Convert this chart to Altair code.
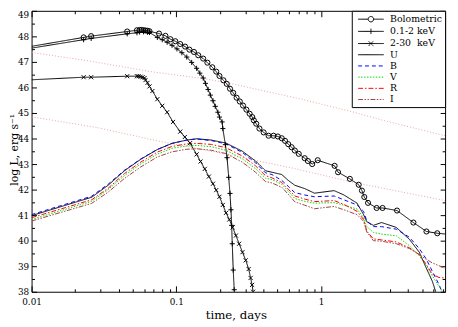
import altair as alt
import pandas as pd

# ---------------- data ----------------
bol_t = [0.0100, 0.0229, 0.0258, 0.0458, 0.0535, 0.0558, 0.0576, 0.0594, 0.0613, 0.0633, 0.0653,
         0.0760, 0.0842, 0.0911, 0.0985, 0.1065, 0.1151, 0.1233, 0.1325, 0.1419, 0.1535, 0.1641,
         0.1775, 0.1889, 0.1989, 0.2118, 0.2234, 0.2351, 0.2476, 0.2611, 0.2749, 0.2894, 0.3053,
         0.3214, 0.3353, 0.3438, 0.3569, 0.3758, 0.4018, 0.4345, 0.4699, 0.5035, 0.5359, 0.5645,
         0.5941, 0.6266, 0.6597, 0.7024, 0.7717, 0.8124, 0.8701, 0.9497, 1.243, 1.313, 1.584,
         1.823, 1.919, 1.993, 2.115, 2.426, 2.665, 3.355, 4.355, 5.360, 6.366, 7.60]
bol_L = [47.61, 47.96, 48.01, 48.19, 48.24, 48.25, 48.25, 48.24, 48.23, 48.22, 48.20,
         48.11, 48.02, 47.89, 47.81, 47.70, 47.60, 47.48, 47.39, 47.26, 47.13, 46.97,
         46.79, 46.62, 46.45, 46.28, 46.14, 45.95, 45.79, 45.60, 45.45, 45.29, 45.13,
         44.97, 44.84, 44.71, 44.58, 44.39, 44.24, 44.11, 44.11, 44.08, 44.01, 43.91,
         43.78, 43.66, 43.53, 43.40, 43.23, 43.12, 43.00, 43.15, 42.93, 42.68, 42.42,
         42.19, 41.96, 41.71, 41.48, 41.28, 41.28, 41.18, 40.71, 40.36, 40.29, 40.25]

soft_t = [0.0100, 0.0229, 0.0258, 0.0458, 0.0535, 0.0558, 0.0594, 0.0633, 0.0653, 0.0740,
          0.0800, 0.0865, 0.0935, 0.1011, 0.1093, 0.1182, 0.1278, 0.1382, 0.1455, 0.1535,
          0.1591, 0.1660, 0.1720, 0.1794, 0.1860, 0.1940, 0.1989, 0.2075, 0.2098, 0.2185,
          0.2244, 0.2304, 0.2351, 0.2388, 0.2415, 0.2438, 0.2476, 0.2515, 0.2530]
soft_L = [47.54, 47.87, 47.92, 48.10, 48.14, 48.17, 48.18, 48.16, 48.15, 47.96,
          47.87, 47.77, 47.65, 47.51, 47.36, 47.19, 46.98, 46.75, 46.56, 46.37,
          46.16, 45.92, 45.70, 45.48, 45.26, 45.03, 44.84, 44.65, 44.39, 43.76,
          43.25, 42.48, 41.85, 41.21, 40.60, 39.88, 38.85, 38.08, 37.95]

hard_t = [0.0100, 0.0229, 0.0258, 0.0458, 0.0535, 0.0549, 0.0567, 0.0585, 0.0604, 0.0613,
          0.0633, 0.0653, 0.0684, 0.0740, 0.0800, 0.0865, 0.0950, 0.1065, 0.1146, 0.1245,
          0.1382, 0.1472, 0.1574, 0.1680, 0.1794, 0.1889, 0.1989, 0.2098, 0.2209, 0.2326,
          0.2453, 0.2584, 0.2720, 0.2868, 0.3020, 0.3165, 0.3265, 0.3343, 0.3396]
hard_L = [46.30, 46.40, 46.40, 46.44, 46.44, 46.44, 46.42, 46.40, 46.37, 46.29,
          46.18, 46.04, 45.86, 45.54, 45.28, 45.03, 44.65, 44.27, 44.06, 43.82,
          43.38, 43.10, 42.81, 42.51, 42.23, 41.98, 41.72, 41.40, 41.09, 40.83,
          40.52, 40.20, 39.88, 39.55, 39.23, 38.89, 38.54, 38.27, 38.00]

opt_t = [0.0100, 0.0260, 0.0338, 0.0439, 0.0569, 0.0740, 0.0935, 0.1182, 0.1382, 0.1747,
         0.2209, 0.2868, 0.3531, 0.4129, 0.4584, 0.5359, 0.5941, 0.6597, 0.7717, 0.9020,
         1.233, 1.441, 1.775, 1.971, 2.075, 2.305, 2.624, 3.317, 4.091, 4.782,
         5.302, 5.887, 6.536, 7.21]
U_L = [40.98, 41.70, 42.17, 42.74, 43.19, 43.57, 43.81, 43.94, 43.99, 43.94,
       43.82, 43.50, 43.12, 42.74, 42.68, 42.59, 42.36, 42.17, 42.04, 41.86,
       41.96, 41.79, 41.47, 41.02, 40.74, 40.60, 40.71, 40.52, 40.05, 39.55,
       38.97, 38.41, 37.60, None]
B_L = [41.02, 41.74, 42.21, 42.76, 43.20, 43.57, 43.81, 43.94, 43.98, 43.92,
       43.79, 43.45, 43.05, 42.66, 42.59, 42.36, 42.13, 41.88, 41.79, 41.72,
       41.75, 41.60, 41.40, 41.15, 40.77, 40.55, 40.55, 40.45, 40.13, 39.69,
       39.31, 38.80, 38.29, 37.70]
V_L = [40.83, 41.54, 42.00, 42.55, 43.01, 43.39, 43.62, 43.71, 43.73, 43.68,
       43.54, 43.20, 42.82, 42.45, 42.39, 42.21, 41.94, 41.65, 41.54, 41.47,
       41.49, 41.39, 41.24, 40.90, 40.55, 40.32, 40.26, 40.19, 39.80, 39.41,
       39.05, 38.62, 38.22, 37.85]
R_L = [40.90, 41.60, 42.05, 42.63, 43.08, 43.47, 43.69, 43.79, 43.81, 43.77,
       43.64, 43.31, 42.93, 42.55, 42.46, 42.28, 42.02, 41.75, 41.63, 41.53,
       41.57, 41.42, 41.15, 40.83, 40.37, 40.07, 40.03, 39.95, 39.72, 39.45,
       39.10, 38.69, 38.56, 38.54]
I_L = [40.77, 41.46, 41.90, 42.44, 42.89, 43.28, 43.48, 43.58, 43.60, 43.54,
       43.41, 43.07, 42.68, 42.32, 42.26, 42.09, 41.82, 41.52, 41.39, 41.25,
       41.34, 41.21, 41.02, 40.76, 40.34, 40.00, 39.98, 39.88, 39.69, 39.46,
       39.28, 39.13, 39.02, 38.92]

pink1_t = [0.0100, 0.0248, 0.0666, 0.1616, 0.2584, 0.7327, 1.686, 2.694, 7.21]
pink1_L = [47.37, 47.04, 46.62, 46.33, 46.11, 45.54, 45.03, 44.71, 44.11]
pink2_t = [0.0100, 0.0289, 0.0740, 0.2209, 0.6597, 1.686, 7.21]
pink2_L = [44.85, 44.42, 43.91, 43.39, 42.82, 42.28, 41.57]

series_names = ["Bolometric", "0.1-2 keV", "2-30\u00a0 keV", "U", "B", "V", "R", "I"]
series_colors = ["#000000", "#000000", "#000000", "#000000", "#0000ff", "#00dd00", "#ff0000", "#a04040"]
series_dashes = [[1, 0], [1, 0], [1, 0], [1, 0], [4, 3], [1.5, 1.5], [5, 2, 1.5, 2],
                 [5, 1.5, 1.5, 1.5, 1.5, 1.5]]

x_major = [0.01, 0.1, 1]
x_minor = [0.02, 0.03, 0.04, 0.05, 0.06, 0.07, 0.08, 0.09,
           0.2, 0.3, 0.4, 0.5, 0.6, 0.7, 0.8, 0.9, 2, 3, 4, 5, 6, 7]
y_major = [38, 39, 40, 41, 42, 43, 44, 45, 46, 47, 48, 49]
y_minor = [38.5, 39.5, 40.5, 41.5, 42.5, 43.5, 44.5, 45.5, 46.5, 47.5, 48.5]

# ---------------- tables ----------------
X_MAX = 7.21
line_rows, mark_rows = [], []
for name, ts, Ls in [(series_names[0], bol_t, bol_L), (series_names[1], soft_t, soft_L),
                     (series_names[2], hard_t, hard_L), ("U", opt_t, U_L), ("B", opt_t, B_L),
                     ("V", opt_t, V_L), ("R", opt_t, R_L), ("I", opt_t, I_L)]:
    for i, (t, L) in enumerate(zip(ts, Ls)):
        if L is None:
            continue
        line_rows.append({"series": name, "t": t, "L": L, "i": i})
        if name in series_names[:3] and i > 0 and L >= 38 and t <= X_MAX:
            mark_rows.append({"series": name, "t": t, "L": L})
lines_df = pd.DataFrame(line_rows)
marks_df = pd.DataFrame(mark_rows)

pink_rows = []
for k, (ts, Ls) in enumerate([(pink1_t, pink1_L), (pink2_t, pink2_L)]):
    for i, (t, L) in enumerate(zip(ts, Ls)):
        pink_rows.append({"curve": k, "t": t, "L": L, "i": i})
pink_df = pd.DataFrame(pink_rows)

# ---------------- scales / axes ----------------
FONT = "DejaVu Serif"
xs = alt.Scale(type="log", domain=[0.01, X_MAX], nice=False)
ys = alt.Scale(domain=[38, 49], nice=False, zero=False)


def axis(orient, values, size, labels=False, pad=0, **extra):
    kw = dict(orient=orient, values=values, tickSize={"expr": str(-size)}, tickColor="black",
              tickWidth=1, domain=False, grid=False, labels=labels)
    if labels:
        kw.update(labelFont=FONT, labelFontSize=9, labelColor="black", labelPadding=pad,
                  labelFlush=False, format="~g", titleFont=FONT,
                  titleFontWeight="normal", titleColor="black")
    kw.update(extra)
    return alt.Axis(**kw)


P_LINE = "M-1,0L4.2,0"
P_BOL = "M-1,0L1.05,0M2.15,0L4.2,0M2.15,0A0.55,0.55,0,1,1,1.05,0A0.55,0.55,0,1,1,2.15,0"
P_PLUS = "M-1,0L4.2,0M1.6,-0.55L1.6,0.55"
P_X = "M-1,0L4.2,0M1.15,-0.45L2.05,0.45M1.15,0.45L2.05,-0.45"
sym_signal = ("datum.value === 'Bolometric' ? '%s' : datum.value === '0.1-2 keV' ? '%s' : "
              "indexof(datum.value, '2-30') === 0 ? '%s' : '%s'") % (P_BOL, P_PLUS, P_X, P_LINE)

legend = alt.Legend(title=None, orient="top-right", offset=0, strokeColor="black",
                    fillColor="white", padding=3, labelFont=FONT, labelFontSize=9.5,
                    labelColor="black", symbolSize=100, symbolStrokeWidth=1,
                    symbolOffset=3, labelOffset=22, rowPadding=1.4,
                    symbolType={"expr": sym_signal}, symbolFillColor="transparent")

pink = alt.Chart(pink_df).mark_line(color="#f0a0a0", strokeDash=[1, 2], strokeWidth=1,
                                    clip=True).encode(
    x=alt.X("t:Q", scale=xs, title="time, days",
            axis=axis("bottom", x_major, 6, labels=True, pad=12, titleFontSize=12,
                      titleX=208, titleY=27, titleBaseline="alphabetic")),
    y=alt.Y("L:Q", scale=ys, title="log L, erg s\u207b\u00b9",
            axis=axis("left", y_major, 5, labels=True, pad=8, titleFontSize=11,
                      titleX=-14, titleY=141, titleBaseline="alphabetic",
                      labelBaseline={"condition": {"test": "datum.value >= 49", "value": "top"},
                                     "value": "middle"})),
    detail="curve:N", order="i:Q")

lines = alt.Chart(lines_df).mark_line(strokeWidth=1, clip=True).encode(
    x=alt.X("t:Q", scale=xs, title=None, axis=axis("bottom", x_minor, 3)),
    y=alt.Y("L:Q", scale=ys, title=None, axis=axis("left", y_minor, 3)),
    color=alt.Color("series:N", scale=alt.Scale(domain=series_names, range=series_colors),
                    legend=legend),
    strokeDash=alt.StrokeDash("series:N", scale=alt.Scale(domain=series_names,
                                                          range=series_dashes), legend=legend),
    order="i:Q")

marks = alt.Chart(marks_df).mark_point(filled=False, strokeWidth=1, opacity=1, color="black",
                                       size=27, clip=True).encode(
    x=alt.X("t:Q", scale=xs, title=None, axis=axis("top", x_major, 6)),
    y=alt.Y("L:Q", scale=ys, title=None, axis=axis("right", y_major, 5)),
    shape=alt.Shape("series:N", scale=alt.Scale(domain=series_names[:3],
                    range=["circle", "M-1,0L1,0M0,-1L0,1", "M-0.8,-0.8L0.8,0.8M-0.8,0.8L0.8,-0.8"]),
                    legend=None))

ghost = alt.Chart(pink_df).mark_line(opacity=0).encode(
    x=alt.X("t:Q", scale=xs, title=None, axis=axis("top", x_minor, 3)),
    y=alt.Y("L:Q", scale=ys, title=None, axis=axis("right", y_minor, 3)),
    detail="curve:N")

chart = alt.layer(pink, lines, marks, ghost).resolve_axis(
    x="independent", y="independent").properties(
    width=421, height=286, autosize="none",
    padding={"left": 24, "top": 0, "right": 5, "bottom": 33},
    background="white").configure_view(stroke="black", strokeWidth=1)

chart.save("out.html", embed_options={"renderer": "svg", "actions": False})
